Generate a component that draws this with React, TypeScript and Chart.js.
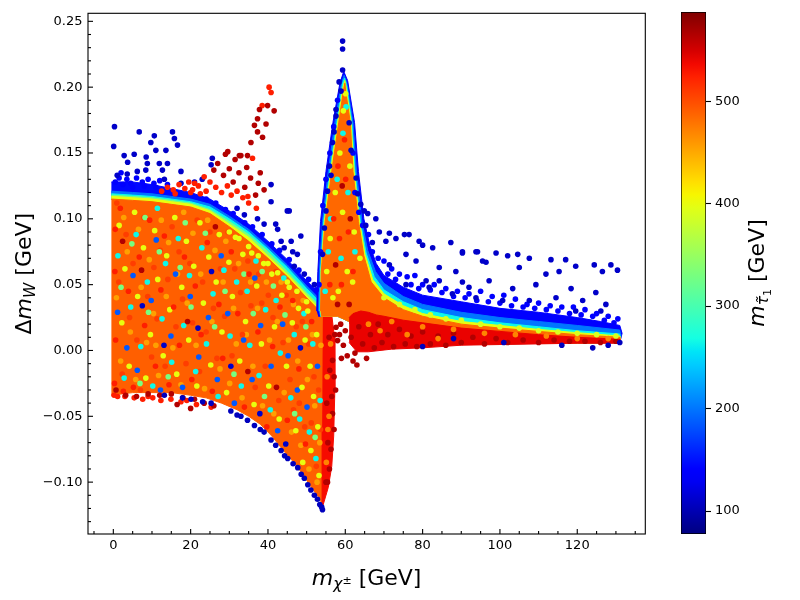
import { useEffect, useRef } from 'react';
import { Chart, registerables } from 'chart.js';

Chart.register(...registerables);

type Pt = [number, number];

// axes
const xRange = [-6.55, 137.6];
const yRange = [-0.1394, 0.2561];
const massRange = [77.6, 587];
const xTicks = [0, 20, 40, 60, 80, 100, 120];
const yTicks = [-0.1, -0.05, 0, 0.05, 0.1, 0.15, 0.2, 0.25];
const massTicks = [100, 200, 300, 400, 500];

// left block (m_chi < 55): upper edge colour bands, outer to inner
const aTopX = [-0.5, 5, 10, 15, 20, 25, 30, 35, 40, 45, 50, 53, 54.3];
const aBlueTop = [0.128, 0.128, 0.126, 0.123, 0.120, 0.115, 0.106, 0.096, 0.083, 0.069, 0.053, 0.044, 0.040];
const aLightBlueTop = [0.121, 0.120, 0.119, 0.117, 0.115, 0.111, 0.102, 0.092, 0.079, 0.065, 0.049, 0.040, 0.036];
const aCyanTop = [0.119, 0.118, 0.117, 0.115, 0.113, 0.109, 0.100, 0.090, 0.077, 0.063, 0.047, 0.038, 0.034];
const aGreenTop = [0.118, 0.117, 0.116, 0.114, 0.112, 0.107, 0.098, 0.088, 0.075, 0.060, 0.044, 0.035, 0.032];
const aYellowTop = [0.117, 0.116, 0.115, 0.113, 0.111, 0.106, 0.096, 0.086, 0.072, 0.058, 0.042, 0.033, 0.030];
const aOrangeTop = [0.115, 0.114, 0.113, 0.111, 0.109, 0.104, 0.094, 0.083, 0.070, 0.056, 0.040, 0.031, 0.028];
const aBottomX = [-0.5, 5, 10, 15, 20, 24, 28, 32, 35, 38, 41, 44, 47, 49, 51, 53, 54.1];
const aBottomY = [-0.034, -0.032, -0.032, -0.032, -0.034, -0.036, -0.040, -0.045, -0.050, -0.056, -0.065, -0.076, -0.086, -0.094, -0.103, -0.111, -0.117];
const aStrip: Pt[] = [[54.2, 0.028], [56.5, 0.027], [57.2, 0.01], [57.3, -0.03], [57.0, -0.065], [56.5, -0.088], [55.6, -0.104], [54.2, -0.118], [54.0, -0.06]];

// resonance peak + tail, outer to inner
const peakBlue: Pt[] = [[52.6, 0.03], [52.9, 0.06], [53.6, 0.098], [55.0, 0.136], [56.8, 0.173], [58.6, 0.203], [59.6, 0.212], [60.6, 0.205], [62.4, 0.173], [63.4, 0.136], [64.8, 0.1], [66.3, 0.08], [68, 0.066], [70, 0.057], [75, 0.048], [80, 0.042], [90, 0.037], [100, 0.032], [110, 0.029], [120, 0.025], [126, 0.022], [131, 0.019], [131.6, 0.013], [131, 0.006], [64, 0.004], [61, 0.022], [58, 0.026], [53, 0.026]];
const peakLightBlue: Pt[] = [[53.1, 0.03], [53.3, 0.06], [54.1, 0.098], [55.6, 0.136], [57.3, 0.173], [59.0, 0.203], [59.7, 0.209], [60.4, 0.203], [62.0, 0.173], [62.9, 0.136], [64.3, 0.098], [65.8, 0.076], [67.8, 0.06], [70, 0.051], [75, 0.041], [80, 0.035], [90, 0.029], [100, 0.025], [110, 0.022], [120, 0.019], [131, 0.0155], [131.3, 0.011], [131, 0.006], [64, 0.004], [61, 0.022], [58, 0.026], [53.5, 0.026]];
const peakCyan: Pt[] = [[53.4, 0.03], [53.6, 0.06], [54.4, 0.098], [56.0, 0.136], [57.8, 0.173], [59.3, 0.203], [59.8, 0.207], [60.3, 0.202], [61.7, 0.173], [62.5, 0.136], [63.9, 0.098], [65.4, 0.074], [67.5, 0.056], [70, 0.046], [75, 0.037], [80, 0.031], [90, 0.025], [100, 0.021], [110, 0.018], [120, 0.015], [131, 0.0125], [131.2, 0.009], [131, 0.006], [64, 0.004], [61, 0.022], [58, 0.026], [53.6, 0.026]];
const peakYellow: Pt[] = [[53.5, 0.03], [53.7, 0.06], [54.6, 0.098], [56.2, 0.136], [58.0, 0.173], [59.4, 0.2], [59.85, 0.205], [60.2, 0.2], [61.5, 0.173], [62.3, 0.136], [63.7, 0.098], [65.1, 0.073], [67.1, 0.054], [70, 0.043], [75, 0.034], [80, 0.028], [90, 0.022], [100, 0.019], [110, 0.016], [120, 0.0135], [131, 0.011], [131, 0.006], [64, 0.004], [61, 0.022], [58, 0.026], [53.7, 0.026]];
const peakOrange: Pt[] = [[53.6, 0.03], [53.8, 0.06], [54.8, 0.098], [56.5, 0.136], [58.3, 0.173], [59.5, 0.197], [59.9, 0.203], [60.1, 0.197], [61.3, 0.173], [62.0, 0.136], [63.4, 0.098], [64.8, 0.072], [66.7, 0.052], [70, 0.040], [75, 0.031], [80, 0.026], [90, 0.020], [100, 0.017], [110, 0.0145], [120, 0.012], [131, 0.010], [131, 0.006], [64, 0.004], [61, 0.022], [58, 0.026], [53.8, 0.026]];
const tailRed: Pt[] = [[61, 0.025], [62, 0.028], [64, 0.030], [66, 0.029], [68, 0.027], [70, 0.026], [75, 0.023], [80, 0.021], [90, 0.017], [100, 0.0145], [110, 0.012], [120, 0.010], [131, 0.0085], [131, 0.0055], [120, 0.0055], [110, 0.005], [100, 0.0045], [90, 0.004], [80, 0.002], [72, 0.001], [66, -0.001], [63, -0.001], [61, 0.006]];

// individual points
const darkBlueOutliers: Pt[] = [
  [0.3, 0.170], [0.1, 0.155], [2.8, 0.148], [3.7, 0.143], [5.4, 0.149], [6.7, 0.166], [10.6, 0.163], [9.7, 0.158], [11, 0.152], [13.6, 0.152], [15.3, 0.166], [15.8, 0.161], [16.6, 0.156], [8.5, 0.147], [8.8, 0.142], [11.9, 0.142], [14, 0.142], [1, 0.133], [3.6, 0.134], [6.2, 0.136], [8.4, 0.137], [12.7, 0.137], [17.5, 0.136], [13.2, 0.130], [17.5, 0.127], [21, 0.128], [25.6, 0.146], [25.3, 0.141], [23, 0.130],
  [32, 0.108], [33.9, 0.103], [40.8, 0.126], [40.8, 0.113], [42, 0.096], [42.5, 0.092], [45, 0.106], [48.5, 0.087], [43.4, 0.083], [44.2, 0.078], [47.6, 0.073], [46.8, 0.064], [49.4, 0.058], [52, 0.050], [37.3, 0.100], [39, 0.096],
  [59.3, 0.235], [59.3, 0.229], [59.3, 0.213], [58.4, 0.204], [58.9, 0.197], [57.6, 0.183], [57.6, 0.178], [57.1, 0.166], [56.7, 0.158], [55.9, 0.140], [56.3, 0.133], [55.4, 0.121], [55, 0.106], [54.6, 0.093], [54.1, 0.073], [45.5, 0.106], [46, 0.083], [46.4, 0.075],
  [61, 0.173], [61.5, 0.152], [62.8, 0.131], [63.2, 0.119], [64, 0.111], [64.9, 0.106], [65.8, 0.104], [67.9, 0.100], [65.3, 0.095], [68.8, 0.090], [71.4, 0.089], [75.3, 0.088], [76.5, 0.088], [70.5, 0.083], [73.1, 0.085], [67, 0.082], [80, 0.080], [82.6, 0.078], [87.3, 0.082], [90.3, 0.075], [93.8, 0.075], [75.7, 0.073], [78.3, 0.068], [71.4, 0.065], [84.3, 0.063], [88.6, 0.060], [95.5, 0.068], [80.9, 0.053], [75.7, 0.050], [92, 0.048],
  [79.1, 0.083], [90.3, 0.074], [94.2, 0.075], [96.4, 0.067], [99, 0.074], [102, 0.072], [104.6, 0.073], [107.6, 0.070], [105, 0.063], [113.2, 0.069], [117, 0.069], [119.6, 0.064], [124.4, 0.065], [128.7, 0.065], [130.4, 0.061], [126.5, 0.060], [115.3, 0.060], [111.9, 0.058], [84.3, 0.053], [90.3, 0.052], [97.2, 0.053], [103.3, 0.047], [109.3, 0.050], [118.4, 0.047], [124.8, 0.044], [127.4, 0.035], [121.4, 0.038], [114.5, 0.040], [107.6, 0.038], [100.7, 0.038], [93.8, 0.040], [87.7, 0.043], [81.7, 0.048], [126.1, 0.030], [119.6, 0.030],
];
const blueOutliers: Pt[] = [
  [0.5, 0.128], [1.5, 0.131], [2.5, 0.126], [3.5, 0.130], [4.5, 0.127], [6, 0.131], [7.5, 0.128], [9, 0.130], [10.5, 0.127], [12, 0.129], [2, 0.135], [5, 0.124], [8, 0.125], [11, 0.124], [14, 0.126],
  [24, 0.115], [26.5, 0.112], [29, 0.107], [31, 0.104], [34, 0.097], [36, 0.094], [38.5, 0.088], [41, 0.081], [43, 0.076], [45.5, 0.069], [48, 0.061], [50.5, 0.054], [52.5, 0.046],
  [62, 0.15], [62.5, 0.12], [63.5, 0.105], [64.5, 0.095], [66, 0.088], [67, 0.075], [68.5, 0.07], [70, 0.068], [72, 0.062], [74, 0.058], [76, 0.056], [78, 0.057], [80, 0.05], [83, 0.05], [86, 0.047], [89, 0.045], [92, 0.043], [95, 0.045], [98, 0.041], [101, 0.042], [104, 0.039], [107, 0.035], [110, 0.036], [113, 0.034], [116, 0.033], [119, 0.033], [122, 0.031], [125, 0.028], [128, 0.026], [130.5, 0.024],
  [71, 0.058], [73, 0.054], [77, 0.05], [79, 0.047], [82, 0.046], [85, 0.044], [88, 0.041], [91, 0.04], [94, 0.038], [97, 0.037], [100, 0.036], [103, 0.034], [106, 0.033], [109, 0.032], [112, 0.031], [115, 0.03], [118, 0.028], [121, 0.027], [124, 0.026], [127, 0.023], [129.5, 0.021],
  [53.2, 0.05], [53.6, 0.075], [54.2, 0.11], [55, 0.13], [56, 0.15], [57, 0.17], [58, 0.19],
];
const redCluster: Pt[] = [
  [12.5, 0.121], [14, 0.124], [15.5, 0.122], [17, 0.126], [18.5, 0.123], [19.5, 0.128], [16, 0.119], [20.5, 0.122], [22.5, 0.119], [20, 0.120], [21, 0.127], [24, 0.121], [26.5, 0.124], [28, 0.120], [29.5, 0.125], [30.5, 0.118], [32, 0.121], [33.5, 0.116], [35, 0.112], [22, 0.125], [23.5, 0.132], [25, 0.128], [40.3, 0.200], [40.8, 0.196], [38.5, 0.186], [36, 0.146], [34.8, 0.117], [37, 0.108],
];
const darkRedCluster: Pt[] = [
  [26, 0.137], [27, 0.142], [28.5, 0.133], [29, 0.149], [30, 0.138], [31, 0.128], [31.5, 0.145], [32.5, 0.135], [33, 0.148], [34, 0.124], [34.5, 0.139], [35.5, 0.131], [36.8, 0.118], [37.5, 0.127], [38, 0.135], [39, 0.122], [35.6, 0.158], [36.5, 0.171], [37.3, 0.166], [37.3, 0.176], [37.8, 0.183], [38.6, 0.162], [39.5, 0.172], [39.9, 0.186], [41.6, 0.182], [34.7, 0.148], [32.6, 0.148], [29.6, 0.151],
];
const aLightOrangeDots: Pt[] = [
  [0.8, 0.04], [1.9, -0.008], [2.7, 0.101], [3.6, 0.075], [4.4, 0.014], [5.8, -0.022], [6.5, 0.092], [7.2, 0.048], [8.6, 0.006], [9.3, 0.069], [10.4, 0.028], [11.7, -0.019], [12.4, 0.099], [13.7, 0.041], [14.3, 0.082], [15.4, 0.002], [16.6, 0.058], [17.5, -0.026], [18.2, 0.105], [19.1, 0.036], [20.6, 0.089], [21.4, 0.004], [22.6, 0.058], [23.6, -0.029], [24.4, 0.099], [25.5, 0.022], [26.3, 0.076], [27.6, -0.014], [28.4, 0.052], [29.1, 0.083], [30.1, -0.025], [31.1, 0.032], [32.4, 0.066], [33.3, -0.036], [34.4, 0.012], [35.5, 0.052], [36.1, -0.012], [37.3, 0.032], [38.6, -0.042], [39.6, 0.052], [40.4, 0.008], [41.5, -0.048], [42.4, 0.022], [43.4, 0.052], [44.2, -0.032], [45.3, 0.008], [46.1, -0.062], [46.6, 0.035], [47.7, -0.008], [48.5, -0.072], [49.1, 0.038], [50.2, -0.022], [50.6, -0.09], [51.5, 0.012], [52.1, -0.042], [52.7, -0.1], [53.4, -0.07], [53.7, 0.004], [31.8, 0.005], [11, 0.004],
];
const aRedOrangeDots: Pt[] = [
  [0.9, 0.112], [1.4, 0.052], [2.3, -0.018], [3.3, 0.088], [4.2, 0.025], [5.1, 0.066], [6.1, 0.008], [7, -0.03], [7.9, 0.101], [8.9, 0.041], [9.9, -0.005], [10.5, 0.063], [11.3, 0.024], [12.1, 0.076], [13.4, -0.012], [14.1, 0.054], [15.2, 0.094], [16.2, 0.018], [17, 0.075], [17.9, 0.039], [18.8, -0.01], [19.8, 0.066], [20.5, 0.021], [21.7, 0.099], [22.3, -0.016], [23.1, 0.052], [24, 0.014], [25, 0.09], [25.9, 0.032], [26.8, -0.006], [27.7, 0.062], [28.8, 0.026], [29.7, 0.09], [30.7, -0.004], [31.4, 0.062], [32.9, 0.044], [33.4, 0.012], [34.8, 0.068], [35.6, 0.034], [36.7, -0.028], [37.6, 0.058], [38.4, 0.036], [39.3, -0.012], [40.1, 0.042], [41.3, 0.025], [42.1, 0.06], [42.8, -0.038], [43.9, 0.006], [44.7, 0.042], [45.7, -0.022], [46.6, -0.045], [47.3, 0.018], [48.1, -0.04], [48.9, 0.022], [49.5, -0.058], [50.5, 0.005], [51.2, -0.055], [51.9, -0.02], [52.5, -0.088], [53.1, -0.03], [53.6, -0.06],
];
const aYellowDots: Pt[] = [
  [1.5, 0.095], [3, 0.062], [2.2, 0.021], [4.1, -0.012], [5.5, 0.105], [6.3, 0.041], [7.8, 0.078], [8.4, -0.021], [9.6, 0.012], [10.7, 0.091], [11.5, 0.054], [12.9, -0.004], [13.8, 0.072], [14.6, 0.031], [15.9, 0.101], [16.4, -0.018], [17.7, 0.048], [18.9, 0.083], [19.5, 0.008], [20.8, 0.064], [21.6, -0.027], [22.4, 0.097], [23.3, 0.036], [24.7, 0.071], [25.2, -0.011], [26.6, 0.052], [27.4, 0.088], [28.1, 0.014], [29.3, -0.032], [29.9, 0.067], [30.8, 0.041], [31.6, 0.086], [32.7, -0.008], [33.5, 0.073], [34.2, 0.022], [35.8, 0.074], [36.4, -0.041], [37.1, 0.049], [38.3, 0.005], [38.9, 0.066], [40.2, -0.027], [41, 0.058], [41.7, 0.018], [42.9, -0.052], [43.6, 0.042], [44.8, -0.012], [45.5, 0.048], [46.3, 0.021], [47.2, -0.061], [47.9, 0.032], [48.8, -0.028], [49.6, 0.008], [50.3, 0.03], [51.1, -0.076], [51.8, -0.035], [52.6, 0.012], [53.2, -0.095], [52.9, -0.058], [50.9, -0.012], [49, -0.085],
  [30, 0.090], [32.5, 0.085], [35, 0.079], [37.5, 0.072], [40, 0.066], [42.5, 0.059], [45, 0.052], [47.5, 0.045], [50, 0.037],
];
const aCyanDots: Pt[] = [
  [1.2, 0.072], [2.8, -0.021], [4.5, 0.033], [5.9, 0.088], [7.1, 0.003], [8.8, 0.052], [10.2, -0.027], [11.4, 0.108], [12.6, 0.024], [13.5, 0.066], [15.1, -0.009], [16.8, 0.085], [18.2, 0.019], [19.7, 0.057], [21.3, -0.016], [22.9, 0.078], [24.1, 0.005], [25.8, 0.043], [27.1, -0.035], [28.6, 0.061], [30.2, 0.011], [31.9, 0.052], [33.1, -0.027], [34.6, 0.045], [35.3, 0.004], [36.9, 0.068], [37.7, -0.019], [39.4, 0.031], [40.6, -0.045], [42.1, 0.038], [43.2, -0.002], [44.1, 0.055], [45.9, -0.036], [46.8, 0.012], [48.2, -0.052], [49.3, 0.028], [50.7, -0.062], [51.6, 0.005], [52.4, -0.082], [53.5, -0.038],
];
const aGreenDots: Pt[] = [
  [2, 0.048], [4.8, 0.081], [6.9, -0.025], [9.1, 0.029], [11.9, 0.075], [14.2, -0.02], [17.3, 0.063], [20.1, 0.033], [23.8, 0.089], [26.2, 0.018], [28.9, 0.045], [31.2, -0.018], [33.8, 0.058], [36.2, 0.028], [39.1, -0.035], [41.4, 0.049], [44.4, 0.027], [46.9, -0.048], [49.8, 0.018], [52.2, -0.066], [38.5, 0.06], [18.6, 0.097], [8.2, 0.101],
];
const aBlueDots: Pt[] = [
  [3.5, 0.002], [6.2, -0.015], [9.8, 0.038], [12.2, -0.03], [14.9, 0.011], [17.9, -0.028], [19.9, 0.041], [22.1, -0.005], [24.6, 0.025], [26.9, -0.022], [29.6, 0.028], [31.3, -0.04], [33.7, 0.008], [35.9, -0.022], [38.1, 0.019], [40.8, -0.012], [42.5, -0.061], [45.2, -0.004], [47.6, -0.03], [50.1, -0.043], [52.8, -0.012], [16.1, 0.058], [27.9, 0.072], [11.1, 0.084], [5.1, 0.057], [1.1, 0.029], [36.6, 0.055], [43.8, 0.02],
];
const aNavyDots: Pt[] = [
  [7.5, 0.034], [13.1, 0.004], [21.9, 0.017], [30.4, -0.012], [37.9, -0.048], [44.6, -0.071], [48.4, 0.002], [25.4, 0.06],
];
const aRedDots: Pt[] = [
  [0.6, 0.008], [1.8, 0.108], [3.9, 0.045], [5.2, -0.028], [6.7, 0.071], [8.1, 0.019], [9.4, 0.099], [10.9, -0.012], [12.3, 0.046], [13.2, 0.087], [14.4, -0.026], [15.6, 0.033], [17.1, 0.004], [18.4, 0.071], [20.3, -0.022], [21.2, 0.049], [22.7, 0.012], [24.3, 0.082], [25.6, -0.031], [27.3, 0.035], [28.3, -0.006], [30.5, 0.075], [32.2, 0.028], [33.9, -0.043], [35.1, 0.058], [37.4, 0.014], [39.7, -0.058], [41.2, 0.003], [43.1, 0.033], [45, -0.053], [46.4, 0.038], [48, -0.014], [49.7, -0.071], [51.3, 0.022], [0.3, -0.025], [0.4, 0.06], [0.5, 0.092], [2.6, -0.031],
  [1.1, -0.035], [5.4, -0.036], [7.6, -0.037], [10.2, -0.036], [12.3, -0.038], [14.9, -0.037], [17.5, -0.039], [25.3, -0.043], [3, -0.035], [9, -0.035], [19, -0.038], [21.5, -0.041], [0.2, -0.034],
];
const aDarkRedDots: Pt[] = [
  [0.7, -0.03], [3.2, -0.034], [6, -0.035], [9, -0.033], [12, -0.034], [15, -0.033], [18, -0.036], [21, -0.037], [23.5, -0.04], [26, -0.042], [16.5, -0.041], [20, -0.044], [7.3, 0.061], [19.2, 0.022], [26.4, 0.094], [34.8, -0.016], [42.2, -0.028], [2.4, 0.083],
  [57.6, 0.0176], [58, 0.0075], [57.1, -0.020], [56.7, -0.048], [56.3, -0.075], [55.9, -0.090], [55.4, -0.100], [56.7, -0.0075], [56.5, -0.035], [57.1, -0.060], [57.3, 0.012], [57.5, -0.03], [55.5, -0.07], [55.2, -0.04], [56, -0.015], [55, -0.1], [55.8, 0.01],
];
const aLowerEdgeNavy: Pt[] = [
  [13.2, -0.034], [17.9, -0.036], [20.1, -0.037], [23.1, -0.039], [25.3, -0.040], [30.4, -0.046], [33, -0.050], [34.7, -0.053], [36.5, -0.057], [39, -0.062], [40.8, -0.068], [43.4, -0.076], [45.1, -0.082], [47.7, -0.089], [49.4, -0.097], [51.1, -0.106], [52.8, -0.113], [53.9, -0.119], [32, -0.049], [38, -0.06], [42, -0.072], [44.3, -0.08], [46.5, -0.086], [48.6, -0.094], [50.3, -0.102], [52, -0.11], [53.4, -0.117], [54.1, -0.121],
];
const stripOrangeDots: Pt[] = [[55.3, -0.02], [55.8, -0.05], [55.1, -0.085], [56.2, 0.005], [55.5, -0.06]];
const peakYellowDots: Pt[] = [[55.2, 0.06], [56.1, 0.085], [57.4, 0.12], [58.6, 0.15], [59.5, 0.182], [60.1, 0.195], [61.2, 0.14], [62.3, 0.09], [63.8, 0.07], [58.2, 0.045], [60.5, 0.06], [56.8, 0.04], [59.3, 0.105], [61.9, 0.052]];
const peakCyanDots: Pt[] = [[54.8, 0.045], [56.2, 0.1], [57.9, 0.13], [59.4, 0.165], [60.7, 0.12], [62.5, 0.075], [58.9, 0.07], [55.6, 0.075], [60.2, 0.185]];
const peakRedDots: Pt[] = [[57, 0.1], [58.1, 0.14], [59.8, 0.16], [60.8, 0.09], [62, 0.06], [56, 0.05], [59, 0.05], [60.1, 0.13], [58.5, 0.085]];
const peakDarkRedDots: Pt[] = [[59.2, 0.125], [61.3, 0.1], [57.5, 0.065], [58, 0.035], [61, 0.035]];
const tailDarkRedDots: Pt[] = [
  [58.5, 0.012], [59.5, 0.004], [60.5, -0.004], [61.5, 0.01], [62.5, -0.002], [63.5, 0.018], [64.5, 0.005], [65.5, -0.006], [66.5, 0.012], [67.5, 0.002], [68.5, 0.02], [69.5, 0.006], [71, 0.012], [72.5, 0.003], [74, 0.016], [75.5, 0.005], [77, 0.011], [78.5, 0.003], [80, 0.014], [82, 0.005], [84, 0.011], [86, 0.004], [88, 0.013], [90, 0.006], [93, 0.01], [96, 0.005], [99, 0.009], [102, 0.006], [106, 0.008], [110, 0.006], [114, 0.008], [118, 0.007], [122, 0.007], [126, 0.006], [130, 0.007], [59, -0.006], [62, -0.008], [63, -0.011], [58.8, 0.02], [60, 0.015],
];
const tailYellowDots: Pt[] = [[70, 0.04], [74, 0.035], [78, 0.031], [82, 0.027], [86, 0.024], [90, 0.023], [95, 0.02], [100, 0.018], [105, 0.017], [110, 0.015], [115, 0.014], [120, 0.013], [125, 0.012], [130, 0.011]];
const tailOrangeDots: Pt[] = [[72, 0.022], [80, 0.018], [88, 0.016], [96, 0.013], [104, 0.012], [112, 0.011], [120, 0.009], [128, 0.009], [66, 0.02], [69, 0.015], [76, 0.012], [84, 0.009]];
const tailNavyDots: Pt[] = [[80, 0.003], [88, 0.009], [101, 0.006], [116, 0.004], [128, 0.004], [124, 0.002], [131, 0.006]];

// matplotlib jet
const JET: Record<string, number[][]> = {
  r: [[0, 0], [0.35, 0], [0.66, 1], [0.89, 1], [1, 0.5]],
  g: [[0, 0], [0.125, 0], [0.375, 1], [0.64, 1], [0.91, 0], [1, 0]],
  b: [[0, 0.5], [0.11, 1], [0.34, 1], [0.65, 0], [1, 0]],
};
function channel(segs: number[][], t: number) {
  for (let i = 1; i < segs.length; i++) {
    if (t <= segs[i][0]) {
      const [x0, y0] = segs[i - 1];
      const [x1, y1] = segs[i];
      return y0 + ((t - x0) / (x1 - x0)) * (y1 - y0);
    }
  }
  return segs[segs.length - 1][1];
}
function jet(mass: number) {
  const t = Math.min(1, Math.max(0, (mass - massRange[0]) / (massRange[1] - massRange[0])));
  const c = (k: string) => Math.round(255 * channel(JET[k], t));
  return `rgb(${c('r')},${c('g')},${c('b')})`;
}

const FONT = '"DejaVu Sans"';
type Run = { text: string; font: string; dy?: number };
function drawRuns(ctx: CanvasRenderingContext2D, runs: Run[], cx: number, baseline: number) {
  const widths = runs.map(r => { ctx.font = r.font; return ctx.measureText(r.text).width; });
  let x = cx - widths.reduce((a, b) => a + b, 0) / 2;
  ctx.fillStyle = '#000';
  ctx.textBaseline = 'alphabetic';
  ctx.textAlign = 'left';
  runs.forEach((r, i) => { ctx.font = r.font; ctx.fillText(r.text, x, baseline + (r.dy || 0)); x += widths[i]; });
}
const big = `22px ${FONT}`;
const bigIt = `italic 22px ${FONT}`;
const subIt = `italic 15.5px ${FONT}`;
const tiny = `11px ${FONT}`;

const frameTicks = {
  id: 'frameTicks',
  afterDraw(chart: any) {
    const { ctx, chartArea: a, scales: { x, y } } = chart;
    ctx.save();
    ctx.strokeStyle = '#000';
    ctx.lineWidth = 1.1;
    ctx.strokeRect(a.left, a.top, a.right - a.left, a.bottom - a.top);
    const tick = (x0: number, y0: number, x1: number, y1: number) => {
      ctx.beginPath(); ctx.moveTo(x0, y0); ctx.lineTo(x1, y1); ctx.stroke();
    };
    for (let v = -5; v <= 135; v += 5) {
      const px = x.getPixelForValue(v);
      tick(px, a.bottom, px, a.bottom - (v % 20 === 0 ? 5 : 3));
    }
    for (let k = -13; k <= 25; k++) {
      const py = y.getPixelForValue(k / 100);
      tick(a.left, py, a.left + (k % 5 === 0 ? 5 : 3), py);
    }
    // axis titles
    drawRuns(ctx, [
      { text: 'm', font: bigIt },
      { text: 'χ', font: subIt, dy: 4 },
      { text: '±', font: tiny, dy: -1 },
      { text: ' [GeV]', font: big },
    ], (a.left + a.right) / 2, 585);
    ctx.translate(31, (a.top + a.bottom) / 2);
    ctx.rotate(-Math.PI / 2);
    drawRuns(ctx, [
      { text: 'Δ', font: big },
      { text: 'm', font: bigIt },
      { text: 'W', font: subIt, dy: 4 },
      { text: ' [GeV]', font: big },
    ], 0, 0);
    ctx.restore();
  },
};

const colorbarTitle = {
  id: 'colorbarTitle',
  afterDraw(chart: any) {
    const { ctx, chartArea: a } = chart;
    ctx.save();
    ctx.translate(99, (a.top + a.bottom) / 2);
    ctx.rotate(-Math.PI / 2);
    drawRuns(ctx, [
      { text: 'm', font: bigIt },
      { text: 'τ\u0303', font: subIt, dy: 4 },
      { text: '1', font: tiny, dy: 7 },
      { text: ' [GeV]', font: big },
    ], 0, 0);
    ctx.restore();
  },
};

function band(top: number[]): Pt[] {
  const up = aTopX.map((x, i) => [x, top[i]] as Pt);
  const down = aTopX.map((x, i) => [x, aOrangeTop[i]] as Pt).reverse();
  return [...up, ...down];
}
const blockA: Pt[] = [
  ...aTopX.map((x, i) => [x, aOrangeTop[i]] as Pt),
  ...aBottomX.map((x, i) => [x, aBottomY[i]] as Pt).reverse(),
];

type Layer = { kind: 'shape' | 'dots'; pts: Pt[]; mass: number };
const layers: Layer[] = [
  { kind: 'shape', pts: band(aBlueTop), mass: 145 },
  { kind: 'shape', pts: band(aLightBlueTop), mass: 200 },
  { kind: 'shape', pts: band(aCyanTop), mass: 265 },
  { kind: 'shape', pts: band(aGreenTop), mass: 330 },
  { kind: 'shape', pts: band(aYellowTop), mass: 400 },
  { kind: 'shape', pts: blockA, mass: 490 },
  { kind: 'shape', pts: aStrip, mass: 535 },
  { kind: 'shape', pts: peakBlue, mass: 140 },
  { kind: 'shape', pts: peakLightBlue, mass: 200 },
  { kind: 'shape', pts: peakCyan, mass: 265 },
  { kind: 'shape', pts: peakYellow, mass: 400 },
  { kind: 'shape', pts: peakOrange, mass: 485 },
  { kind: 'shape', pts: tailRed, mass: 540 },
  { kind: 'dots', pts: aLightOrangeDots, mass: 455 },
  { kind: 'dots', pts: aRedOrangeDots, mass: 508 },
  { kind: 'dots', pts: aBlueDots, mass: 185 },
  { kind: 'dots', pts: aNavyDots, mass: 110 },
  { kind: 'dots', pts: aCyanDots, mass: 265 },
  { kind: 'dots', pts: aGreenDots, mass: 330 },
  { kind: 'dots', pts: aYellowDots, mass: 400 },
  { kind: 'dots', pts: aRedDots, mass: 525 },
  { kind: 'dots', pts: aDarkRedDots, mass: 565 },
  { kind: 'dots', pts: stripOrangeDots, mass: 470 },
  { kind: 'dots', pts: aLowerEdgeNavy, mass: 105 },
  { kind: 'dots', pts: peakCyanDots, mass: 265 },
  { kind: 'dots', pts: peakYellowDots, mass: 400 },
  { kind: 'dots', pts: peakRedDots, mass: 525 },
  { kind: 'dots', pts: peakDarkRedDots, mass: 565 },
  { kind: 'dots', pts: tailDarkRedDots, mass: 565 },
  { kind: 'dots', pts: tailOrangeDots, mass: 470 },
  { kind: 'dots', pts: tailYellowDots, mass: 390 },
  { kind: 'dots', pts: tailNavyDots, mass: 105 },
  { kind: 'dots', pts: blueOutliers, mass: 140 },
  { kind: 'dots', pts: darkBlueOutliers, mass: 110 },
  { kind: 'dots', pts: redCluster, mass: 525 },
  { kind: 'dots', pts: darkRedCluster, mass: 565 },
];

const tickFont = { family: FONT, size: 13 };

export default function App() {
  const mainRef = useRef<HTMLCanvasElement>(null);
  const barRef = useRef<HTMLCanvasElement>(null);

  useEffect(() => {
    document.body.style.margin = '0';
    if (!mainRef.current || !barRef.current) return;

    const datasets = layers.map((l, i) => {
      const color = jet(l.mass);
      const data = l.pts.map(([x, y]) => ({ x, y }));
      const order = layers.length - i;
      if (l.kind === 'shape') {
        return {
          data, order, showLine: true, fill: 'shape', tension: 0,
          backgroundColor: color, borderColor: color, borderWidth: 1, pointRadius: 0,
        };
      }
      return {
        data, order, showLine: false,
        backgroundColor: color, borderColor: color, borderWidth: 0, pointRadius: 2.8, pointHoverRadius: 2.8,
      };
    });

    const main = new Chart(mainRef.current, {
      type: 'scatter',
      data: { datasets: datasets as any },
      options: {
        animation: false,
        responsive: false,
        events: [],
        layout: { padding: { top: 12, right: 19.7, left: 0, bottom: 0 } },
        plugins: { legend: { display: false }, tooltip: { enabled: false } },
        scales: {
          x: {
            type: 'linear', min: xRange[0], max: xRange[1],
            afterBuildTicks: (s: any) => { s.ticks = xTicks.map(value => ({ value })); },
            afterFit: (s: any) => { s.height = 66; },
            grid: { display: false, drawTicks: false },
            border: { display: false },
            ticks: { font: tickFont, color: '#000', padding: 4, maxRotation: 0, callback: (v: any) => String(v) },
          },
          y: {
            type: 'linear', min: yRange[0], max: yRange[1],
            afterBuildTicks: (s: any) => { s.ticks = yTicks.map(value => ({ value })); },
            afterFit: (s: any) => { s.width = 88; },
            grid: { display: false, drawTicks: false },
            border: { display: false },
            ticks: {
              font: tickFont, color: '#000', padding: 5.5,
              callback: (v: any) => (v < -1e-9 ? '\u2212' : '') + Math.abs(v).toFixed(2),
            },
          },
        },
      },
      plugins: [frameTicks],
    });

    const bar = new Chart(barRef.current, {
      type: 'bar',
      data: {
        labels: [''],
        datasets: [{
          data: [[massRange[0], massRange[1]]] as any,
          backgroundColor: (c: any) => {
            const area = c.chart.chartArea;
            if (!area) return 'rgba(0,0,0,0)';
            const g = c.chart.ctx.createLinearGradient(0, area.bottom, 0, area.top);
            for (let i = 0; i <= 40; i++) {
              g.addColorStop(i / 40, jet(massRange[0] + (massRange[1] - massRange[0]) * i / 40));
            }
            return g;
          },
          borderColor: '#000', borderWidth: 1, borderSkipped: false,
          categoryPercentage: 1, barPercentage: 1,
        }],
      },
      options: {
        animation: false,
        responsive: false,
        events: [],
        layout: { padding: { left: 16, top: 12, bottom: 66, right: 0 } },
        plugins: { legend: { display: false }, tooltip: { enabled: false } },
        scales: {
          x: { display: false },
          y: {
            position: 'right', min: massRange[0], max: massRange[1],
            afterBuildTicks: (s: any) => { s.ticks = massTicks.map(value => ({ value })); },
            afterFit: (s: any) => { s.width = 94; },
            grid: { drawOnChartArea: false, drawTicks: true, tickLength: 5, tickColor: '#000', tickWidth: 1.1 },
            border: { display: false },
            ticks: { font: tickFont, color: '#000', padding: 4 },
          },
        },
      },
      plugins: [colorbarTitle],
    });

    return () => { main.destroy(); bar.destroy(); };
  }, []);

  return (
    <div style={{ position: 'relative', width: 800, height: 600, background: '#fff' }}>
      <canvas ref={mainRef} width={665} height={600} style={{ position: 'absolute', left: 0, top: 0 }} />
      <canvas ref={barRef} width={135} height={600} style={{ position: 'absolute', left: 665, top: 0 }} />
    </div>
  );
}
